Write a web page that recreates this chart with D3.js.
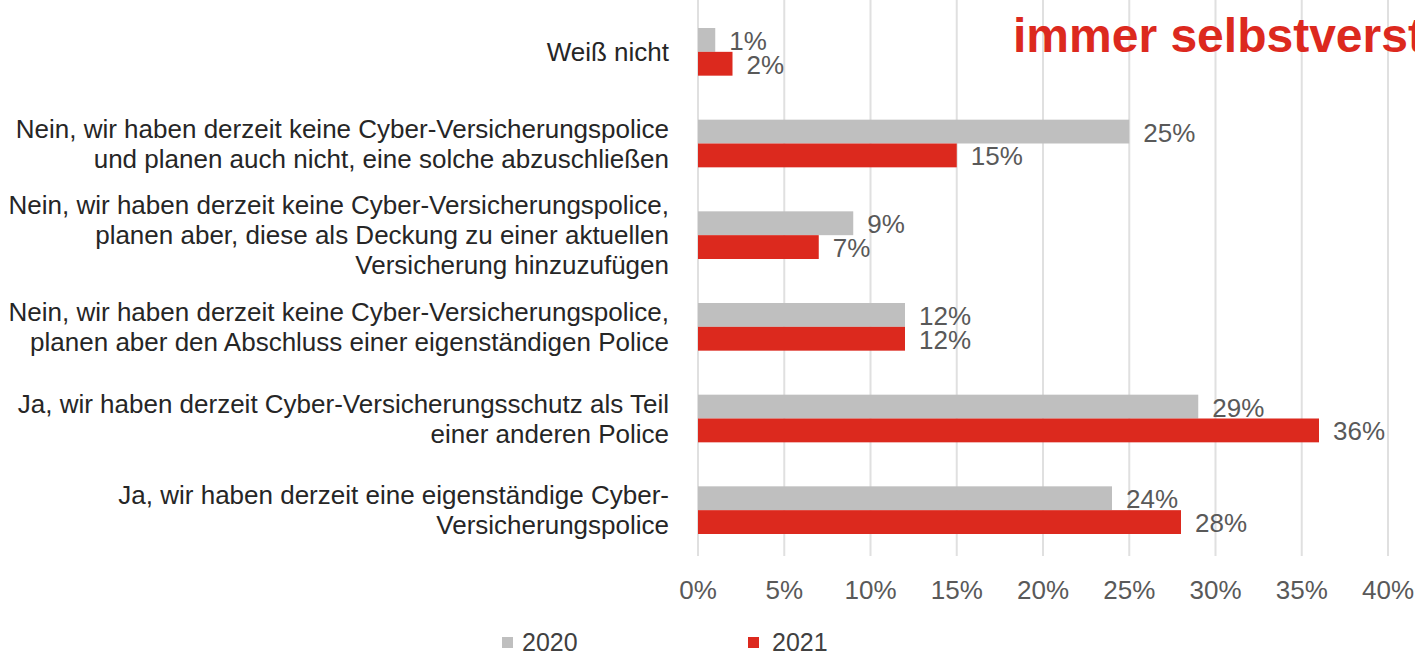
<!DOCTYPE html>
<html>
  <head>
    <meta charset="UTF-8">
    <style>
      body {
        margin: 0;
        background: #fff;
        font-family: Arial, 'Liberation Sans', sans-serif;
      }

      .category {
        font-size: 26px;
        fill: #262626;
      }

      .value, .tick-label {
        font-size: 26px;
        fill: #595959;
      }

      .legend text {
        font-size: 25px;
        fill: #404040;
      }

      .title {
        font-size: 48px;
        font-weight: bold;
        fill: #dc291e;
      }
    </style>
    <script src="https://cdn.jsdelivr.net/npm/d3@7"></script>
  </head>

  <body>
    <svg id="chart"></svg>

    <script type="text/javascript">
      let categories = [
        ['Weiß nicht'],
        ['Nein, wir haben derzeit keine Cyber-Versicherungspolice', 'und planen auch nicht, eine solche abzuschließen'],
        ['Nein, wir haben derzeit keine Cyber-Versicherungspolice,', 'planen aber, diese als Deckung zu einer aktuellen', 'Versicherung hinzuzufügen'],
        ['Nein, wir haben derzeit keine Cyber-Versicherungspolice,', 'planen aber den Abschluss einer eigenständigen Police'],
        ['Ja, wir haben derzeit Cyber-Versicherungsschutz als Teil', 'einer anderen Police'],
        ['Ja, wir haben derzeit eine eigenständige Cyber-', 'Versicherungspolice']
      ]
      let seriesNames = ['2020', '2021']
      let values2020 = [1, 25, 9, 12, 29, 24]
      let values2021 = [2, 15, 7, 12, 36, 28]
      let tickValues = [0, 5, 10, 15, 20, 25, 30, 35, 40]
      let titleText = 'immer selbstverständlich'

      let colors = {'2020': '#bfbfbf', '2021': '#dc291e'}

      function getConfig() {
        let width = 1415
        let height = 655
        let container = d3.select('#chart')
          .attr('width', width)
          .attr('height', height)
        return {width, height, container}
      }

      function getScales() {
        let xScale = d3.scaleLinear()
          .domain([0, 40])
          .range([698, 1388])

        let yScale = d3.scaleBand()
          .domain(d3.range(categories.length))
          .range([6, 556])
          .paddingInner(0.48)
          .paddingOuter(0.24)

        let subScale = d3.scaleBand()
          .domain(seriesNames)
          .range([0, yScale.bandwidth()])

        return {xScale, yScale, subScale}
      }

      function drawGrid(scales, config) {
        let {xScale} = scales
        config.container.append('g')
          .selectAll('line')
          .data(tickValues)
          .enter()
          .append('line')
          .attr('x1', d => xScale(d))
          .attr('x2', d => xScale(d))
          .attr('y1', 0)
          .attr('y2', 556)
          .attr('stroke', '#e0e0e0')
          .attr('stroke-width', 2)

        config.container.append('g')
          .selectAll('text')
          .data(tickValues)
          .enter()
          .append('text')
          .attr('class', 'tick-label')
          .attr('x', d => xScale(d))
          .attr('y', 599)
          .attr('text-anchor', 'middle')
          .text(d => d + '%')
      }

      function drawBars(scales, config) {
        let {xScale, yScale, subScale} = scales
        let rows = categories.map((c, i) => ({
          i,
          values: [
            {series: '2020', value: values2020[i]},
            {series: '2021', value: values2021[i]}
          ]
        }))

        let groups = config.container.append('g')
          .selectAll('g')
          .data(rows)
          .enter()
          .append('g')
          .attr('transform', d => `translate(0, ${yScale(d.i)})`)

        groups.selectAll('rect')
          .data(d => d.values)
          .enter()
          .append('rect')
          .attr('x', xScale(0))
          .attr('y', d => subScale(d.series))
          .attr('width', d => xScale(d.value) - xScale(0))
          .attr('height', subScale.bandwidth())
          .attr('fill', d => colors[d.series])

        groups.selectAll('text')
          .data(d => d.values)
          .enter()
          .append('text')
          .attr('class', 'value')
          .attr('x', d => xScale(d.value) + 14)
          .attr('y', d => subScale(d.series) + subScale.bandwidth() / 2 + 10)
          .text(d => d.value + '%')
      }

      function drawCategories(scales, config) {
        let {yScale} = scales
        let lineHeight = 30
        let labels = config.container.append('g')
          .selectAll('text')
          .data(categories)
          .enter()
          .append('text')
          .attr('class', 'category')
          .attr('text-anchor', 'end')

        labels.selectAll('tspan')
          .data((d, i) => d.map((line, j) => ({line, j, n: d.length, i})))
          .enter()
          .append('tspan')
          .attr('x', 669)
          .attr('y', d => yScale(d.i) + yScale.bandwidth() / 2 + 9 + (d.j - (d.n - 1) / 2) * lineHeight)
          .text(d => d.line)
      }

      function drawLegend(config) {
        let positions = {'2020': 502, '2021': 748}
        let legend = config.container.selectAll('.legend')
          .data(seriesNames)
          .enter()
          .append('g')
          .attr('class', 'legend')
          .attr('transform', d => `translate(${positions[d]}, 637)`)

        legend.append('rect')
          .attr('width', 11)
          .attr('height', 11)
          .attr('fill', d => colors[d])

        legend.append('text')
          .attr('x', d => d == '2020' ? 20 : 24)
          .attr('y', 14)
          .text(d => d)
      }

      function drawTitle(config) {
        config.container.append('text')
          .attr('class', 'title')
          .attr('x', 1013)
          .attr('y', 52)
          .text(titleText)
      }

      let config = getConfig()
      let scales = getScales()
      drawGrid(scales, config)
      drawBars(scales, config)
      drawCategories(scales, config)
      drawLegend(config)
      drawTitle(config)
    </script>
  </body>
</html>
